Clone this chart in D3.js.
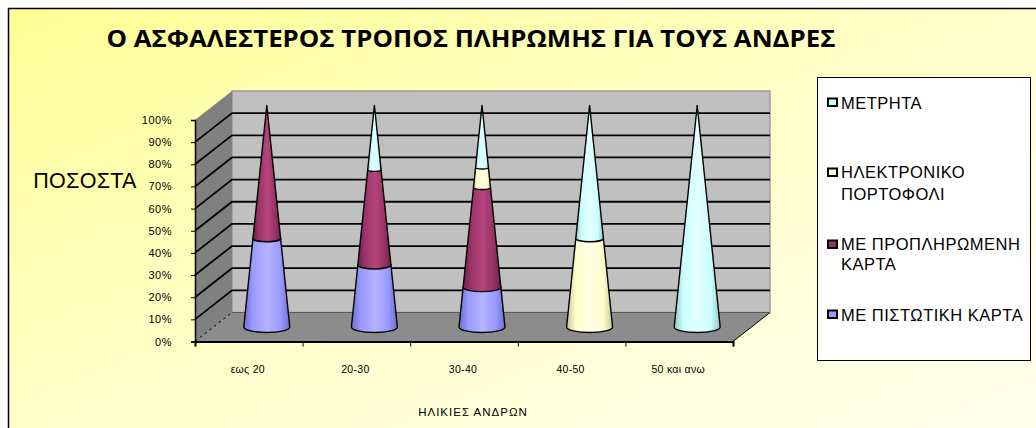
<!DOCTYPE html>
<html><head><meta charset="utf-8">
<script src="https://cdn.jsdelivr.net/npm/d3@7"></script>
<style>html,body{margin:0;padding:0;background:#fff}svg{display:block}text{font-family:"Liberation Sans",Arial,sans-serif;fill:#000}</style>
</head><body><svg id="c" width="1036" height="428"></svg>
<script>
const ageGroups = ["εως 20","20-30","30-40","40-50","50 και ανω"];
const seriesNames = ["ΜΕ ΠΙΣΤΩΤΙΚΗ ΚΑΡΤΑ","ΜΕ ΠΡΟΠΛΗΡΩΜΕΝΗ ΚΑΡΤΑ","ΗΛΕΚΤΡΟΝΙΚΟ ΠΟΡΤΟΦΟΛΙ","ΜΕΤΡΗΤΑ"];
const creditCard = [40,28,18,0,0];
const prepaidCard = [60,43,45,0,0];
const eWallet = [0,0,9,40,0];
const cash = [0,29,28,60,100];
const seriesValues = [creditCard,prepaidCard,eWallet,cash];
const seriesColors = ["#9999FF","#993366","#FFFFCC","#CCFFFF"];
const seriesLight = ["#B4B4FF","#B5447C","#FFFFE4","#E2FFFF"];
const seriesDark = ["#6E6ECC","#6E2248","#C4C498","#8FC8C8"];
const tickValues = d3.range(0,101,10);

const svg = d3.select("#c");
const defs = svg.append("defs");

const bg = defs.append("linearGradient").attr("id","bg").attr("x1","0").attr("y1","0").attr("x2","1").attr("y2","1");
bg.append("stop").attr("offset","0").attr("stop-color","#FFFF96");
bg.append("stop").attr("offset","0.55").attr("stop-color","#FFFFD0");
bg.append("stop").attr("offset","1").attr("stop-color","#FFFFF0");
seriesColors.forEach((c,i)=>{
  const g = defs.append("linearGradient").attr("id","cone"+i).attr("x1","0").attr("x2","1").attr("y1","0").attr("y2","0");
  [[0,seriesDark[i]],[0.2,c],[0.52,seriesLight[i]],[0.8,c],[1,seriesDark[i]]].forEach(([o,k])=>
    g.append("stop").attr("offset",o).attr("stop-color",k));
});

// Chart area frame
svg.append("rect").attr("x",8.5).attr("y",8.5).attr("width",1040).attr("height",440)
  .attr("fill","url(#bg)").attr("stroke","#000").attr("stroke-width",1.5);

// Title and axis titles
svg.append("text").attr("x",471).attr("y",47).attr("text-anchor","middle")
  .style("font-family","'Open Sans',sans-serif").style("font-weight",700).style("font-size","23px")
  .attr("textLength",729).attr("lengthAdjust","spacingAndGlyphs")
  .text("Ο ΑΣΦΑΛΕΣΤΕΡΟΣ ΤΡΟΠΟΣ ΠΛΗΡΩΜΗΣ ΓΙΑ ΤΟΥΣ ΑΝΔΡΕΣ");
svg.append("text").attr("x",85).attr("y",188).attr("text-anchor","middle").style("font-size","21.5px").style("letter-spacing","0.3px").text("ΠΟΣΟΣΤΑ");
svg.append("text").attr("x",473).attr("y",416).attr("text-anchor","middle").style("font-size","11.5px").style("letter-spacing","1px").text("ΗΛΙΚΙΕΣ ΑΝΔΡΩΝ");

// Plot box: front plane scales plus an oblique depth offset
const x = d3.scaleBand().domain(ageGroups).range([195,733]);
const y = d3.scaleLinear().domain([0,100]).range([341.5,120]);
const depth = {dx:37, dy:-29};

const wall = svg.append("g");
wall.append("polygon").attr("fill","#C0C0C0").attr("stroke","#9a9a9a").attr("stroke-width",1.5)
  .attr("points",[[195+depth.dx,y(100)+depth.dy],[733+depth.dx,y(100)+depth.dy],[733+depth.dx,y(0)+depth.dy],[195+depth.dx,y(0)+depth.dy]].join(" "));
wall.append("polygon").attr("fill","#808080")
  .attr("points",[[195,y(100)],[195+depth.dx,y(100)+depth.dy],[195+depth.dx,y(0)+depth.dy],[195,y(0)]].join(" "));
wall.append("polygon").attr("fill","#8C8C8C")
  .attr("points",[[195,y(0)],[733,y(0)],[733+depth.dx,y(0)+depth.dy],[195+depth.dx,y(0)+depth.dy]].join(" "));
wall.selectAll("path.grid").data(tickValues.filter(d=>d>0&&d<100)).join("path").attr("class","grid")
  .attr("fill","none").attr("stroke","#000").attr("stroke-width",1.8)
  .attr("d",d=>`M195,${y(d)}L${195+depth.dx},${y(d)+depth.dy}H${733+depth.dx}`);
// Floor edges: dashed diagonal at the left, solid at the right
wall.append("line").attr("x1",195).attr("y1",y(0)).attr("x2",195+depth.dx).attr("y2",y(0)+depth.dy)
  .attr("stroke","#000").attr("stroke-dasharray","3 3");
wall.append("line").attr("x1",733).attr("y1",y(0)).attr("x2",733+depth.dx).attr("y2",y(0)+depth.dy).attr("stroke","#000");
wall.append("line").attr("x1",195+depth.dx).attr("y1",y(0)+depth.dy).attr("x2",733+depth.dx).attr("y2",y(0)+depth.dy)
  .attr("stroke","#5a5a5a");

// Axes
const yAxis = d3.axisLeft(y).tickValues(tickValues).tickFormat(d=>d+"%").tickSize(4);
const gy = svg.append("g").attr("transform","translate(195,0)").call(yAxis);
gy.select(".domain").attr("stroke","#000").attr("stroke-width",1.5);
gy.selectAll("text").style("font-size","11px").style("font-family","'Liberation Sans',sans-serif").style("letter-spacing","0.5px").attr("x",-23);
const xAxis = d3.axisBottom(d3.scaleLinear().domain([0,5]).range([195,733])).tickValues(d3.range(6)).tickFormat("").tickSize(5);
const gx = svg.append("g").attr("transform",`translate(0,${y(0)})`).call(xAxis);
gx.select(".domain").attr("stroke","#000").attr("stroke-width",2);
svg.selectAll("text.cat").data(ageGroups).join("text").attr("class","cat")
  .attr("x",d=>x(d)+x.bandwidth()/2-1).attr("y",373).attr("text-anchor","middle").style("font-size","10.5px").style("letter-spacing","0.3px").text(d=>d);

// Stacked cones sit at mid depth; radius shrinks linearly to the apex
const baseR = 23, baseRy = 5.5;
const coneY = v => y(v)+depth.dy/2;
const radius = v => baseR*(100-v)/100;
ageGroups.forEach((g,gi)=>{
  const cx = x(g)+x.bandwidth()/2+depth.dx/2-0.5;
  let acc = 0;
  const segs = seriesValues.map((vals,si)=>{const s={si,a:acc,b:acc+vals[gi]};acc=s.b;return s;}).filter(s=>s.b>s.a);
  const cone = svg.append("g");
  segs.forEach(s=>{
    const ra=radius(s.a), rb=radius(s.b), ya=coneY(s.a), yb=coneY(s.b);
    const rya=baseRy*ra/baseR, ryb=baseRy*rb/baseR;
    let d = `M${cx-ra},${ya}A${ra},${rya} 0 0 0 ${cx+ra},${ya}L${cx+rb},${yb}`;
    if(rb>0) d += `A${rb},${ryb} 0 0 0 ${cx-rb},${yb}`;
    d += "Z";
    cone.append("path").attr("d",d).attr("fill",`url(#cone${s.si})`).attr("stroke","#000").attr("stroke-width",1.4).attr("stroke-linejoin","round");
  });
});

// Legend
const lg = svg.append("g");
lg.append("rect").attr("x",817.5).attr("y",77.5).attr("width",213).attr("height",283).attr("fill","#fff").attr("stroke","#000");
const legendRows = [
  {s:3, y:102, baselines:[109], lines:["ΜΕΤΡΗΤΑ"]},
  {s:2, y:172, baselines:[178,200], lines:["ΗΛΕΚΤΡΟΝΙΚΟ","ΠΟΡΤΟΦΟΛΙ"]},
  {s:1, y:244, baselines:[250,270], lines:["ΜΕ ΠΡΟΠΛΗΡΩΜΕΝΗ","ΚΑΡΤΑ"]},
  {s:0, y:314, baselines:[321], lines:["ΜΕ ΠΙΣΤΩΤΙΚΗ ΚΑΡΤΑ"]}
];
legendRows.forEach(r=>{
  lg.append("rect").attr("x",828).attr("y",r.y-3.5).attr("width",9).attr("height",7.5)
    .attr("fill",seriesColors[r.s]).attr("stroke","#000").attr("stroke-width",2);
  r.lines.forEach((t,i)=>lg.append("text").attr("x",841).attr("y",r.baselines[i]).style("font-size","16.5px").style("letter-spacing","0.5px").text(t));
});
</script></body></html>
